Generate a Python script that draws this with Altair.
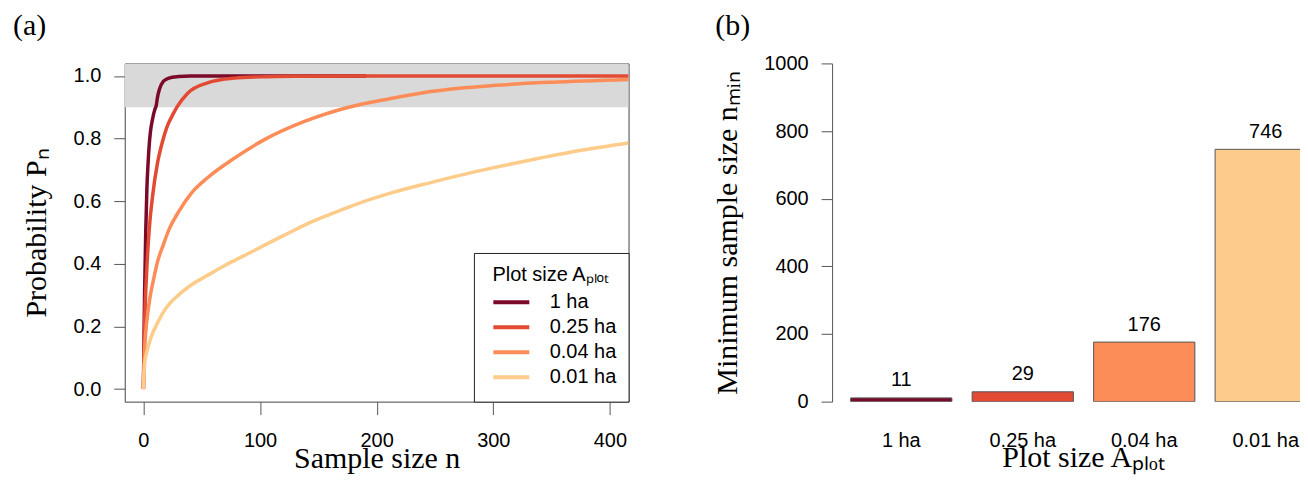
import altair as alt
import pandas as pd

# ---------------- data ----------------
sizes = ["1 ha", "0.25 ha", "0.04 ha", "0.01 ha"]
colors = ["#7b0a2a", "#e34a33", "#fc8d59", "#fdcc8a"]

# panel (a): probability P_n against sample size n
n_1ha = [0, 1, 2, 3, 4, 5, 6, 8, 10, 11, 12, 14, 17, 20, 25, 30, 40, 60, 100, 191]
p_1ha = [0, 0.30, 0.50, 0.64, 0.72, 0.78, 0.82, 0.865, 0.895, 0.905, 0.93, 0.96,
         0.982, 0.99, 0.996, 0.998, 1.0, 1.0, 1.0, 1.0]
n_025 = [0, 1, 2, 3, 5, 8, 12, 16, 20, 25, 29, 38, 55, 78, 100, 130, 200, 300, 416]
p_025 = [0, 0.20, 0.31, 0.39, 0.51, 0.62, 0.72, 0.785, 0.835, 0.875, 0.902, 0.945,
         0.978, 0.993, 0.997, 0.999, 1.0, 1.0, 1.0]
n_004 = [0, 1, 2, 4, 6, 9, 12, 17, 22, 30, 41, 55, 75, 103, 137, 176, 211, 248, 302, 350, 416]
p_004 = [0, 0.12, 0.18, 0.25, 0.30, 0.355, 0.405, 0.46, 0.51, 0.565, 0.625, 0.675,
         0.73, 0.795, 0.853, 0.900, 0.927, 0.951, 0.970, 0.980, 0.989]
n_001 = [0, 1, 3, 7, 12, 17, 23, 30, 40, 51, 63, 76, 90, 103, 120, 140, 160, 180,
         214, 248, 282, 330, 373, 416]
p_001 = [0, 0.08, 0.12, 0.17, 0.21, 0.245, 0.275, 0.30, 0.33, 0.355, 0.38, 0.407,
         0.433, 0.458, 0.49, 0.527, 0.558, 0.587, 0.628, 0.661, 0.692, 0.730, 0.761, 0.786]

band_lo = [0.9]
band_hi = [1.04]
band_x = [-16]
band_x2 = [416]

x_ticks = [0, 100, 200, 300, 400]
y_ticks = [0.0, 0.2, 0.4, 0.6, 0.8, 1.0]

# panel (b): minimum sample size
nmin = [11, 29, 176, 746]
yb_ticks = [0, 200, 400, 600, 800, 1000]
xb_title = ["Plot size Aₚₗₒₜ"]

# ---------------- layout / style ----------------
W_A, H = 505, 339
W_B = 469
RANGE_B = 504
SANS = "Liberation Sans"
SERIF = "Liberation Serif"
TICK_COL = "#555555"

curve_sets = [n_1ha, n_025, n_004, n_001]
prob_sets = [p_1ha, p_025, p_004, p_001]

xs = alt.Scale(domain=[-16, 416], nice=False, zero=False)
ys = alt.Scale(domain=[-0.04, 1.04], nice=False, zero=False)
cs = alt.Scale(domain=sizes, range=colors)

band_df = pd.DataFrame({"y": band_lo, "y2": band_hi, "x": band_x, "x2": band_x2})
band = alt.Chart(band_df).mark_rect(color="#d9d9d9", clip=True).encode(
    x=alt.X("x:Q", scale=xs), x2="x2:Q",
    y=alt.Y("y:Q", scale=ys), y2="y2:Q",
)

x_axis_a = alt.Axis(values=x_ticks, domain=False, grid=False, tickSize=13,
                    tickColor=TICK_COL, labelFont=SANS, labelFontSize=20,
                    labelPadding=16, labelColor="black",
                    titleY=66, titleBaseline="alphabetic",
                    title="Sample size n")
y_axis_a = alt.Axis(values=y_ticks, format=".1f", domain=False, grid=False,
                    tickSize=11, tickColor=TICK_COL, labelFont=SANS,
                    labelFontSize=20, labelPadding=13, labelColor="black",
                    titlePadding=22, title="Probability Pₙ")

legend = alt.Legend(
    title="Plot size Aₚₗₒₜ", orient="bottom-right", offset=0,
    strokeColor="#222222", fillColor="white", padding=12, cornerRadius=0,
    titleFont=SANS, titleFontSize=20, titleFontWeight="normal", titleColor="black",
    titleAnchor="middle", titlePadding=5,
    labelFont=SANS, labelFontSize=20, labelColor="black",
    symbolType="stroke", symbolStrokeWidth=4, symbolSize=1300,
    clipHeight=25, rowPadding=0, symbolOffset=5, labelOffset=18,
)

line_layers = []
for s, ns, ps in zip(sizes, curve_sets, prob_sets):
    df = pd.DataFrame({"size": s, "n": ns, "P": ps})
    line_layers.append(
        alt.Chart(df).mark_line(strokeWidth=3.5, clip=True, interpolate="monotone").encode(
            x=alt.X("n:Q", scale=xs, axis=x_axis_a),
            y=alt.Y("P:Q", scale=ys, axis=y_axis_a),
            color=alt.Color("size:N", scale=cs, legend=legend),
        )
    )

title_common = dict(anchor="start", frame="group", font=SERIF, fontSize=30,
                    fontWeight="normal", color="black", baseline="alphabetic")

panel_a = alt.layer(band, *line_layers).properties(
    width=W_A, height=H,
    view=alt.ViewBackground(stroke="#444444", strokeWidth=1),
    title=alt.TitleParams("(a)", dx=-112, offset=-2, **title_common),
)

bars_df = pd.DataFrame({"size": sizes, "nmin": nmin})
xb = alt.X("size:N", sort=sizes,
           scale=alt.Scale(range=[0, RANGE_B], paddingInner=1 / 6, paddingOuter=0.153),
           axis=None)
yb = alt.Y("nmin:Q", scale=alt.Scale(domain=[0, 1000], nice=False),
           axis=alt.Axis(values=yb_ticks, format="d", domain=True, domainColor=TICK_COL,
                         grid=False, tickSize=11, tickColor=TICK_COL, labelFont=SANS,
                         labelFontSize=20, labelPadding=13, labelColor="black",
                         titlePadding=21, title="Minimum sample size nₘᵢₙ"))

bars = alt.Chart(bars_df).mark_bar(stroke="#555555", strokeWidth=1, clip=True).encode(
    x=xb, y=yb, color=alt.Color("size:N", scale=cs, legend=None))
values = alt.Chart(bars_df).mark_text(baseline="alphabetic", dy=-11.5, font=SANS,
                                      fontSize=20, color="black", clip=True).encode(
    x=xb, y=yb, text="nmin:Q")
cat_labels = alt.Chart(bars_df).mark_text(baseline="middle", font=SANS, fontSize=20,
                                          color="black").encode(
    x=xb, y=alt.value(H + 39), text="size:N")
xb_title_df = pd.DataFrame({"t": xb_title})
xb_title_mark = alt.Chart(xb_title_df).mark_text(
    baseline="alphabetic", align="center", font=SERIF, fontSize=30, color="black"
).encode(x=alt.value(RANGE_B / 2), y=alt.value(H + 66), text="t:N")

panel_b = alt.layer(bars, values, cat_labels, xb_title_mark).properties(
    width=W_B, height=H,
    view=alt.ViewBackground(stroke=None),
    title=alt.TitleParams("(b)", dx=-117, offset=-12, **title_common),
)

chart = alt.hconcat(panel_a, panel_b, spacing=83).resolve_scale(
    color="independent").resolve_legend(color="independent").properties(
    padding={"left": 4, "top": 2, "right": 0, "bottom": 0}
).configure_view(stroke=None).configure_axis(
    titleFont=SERIF, titleFontSize=30, titleFontWeight="normal", titleColor="black"
)

chart.save("out.html", embed_options={"renderer": "svg", "actions": False})
